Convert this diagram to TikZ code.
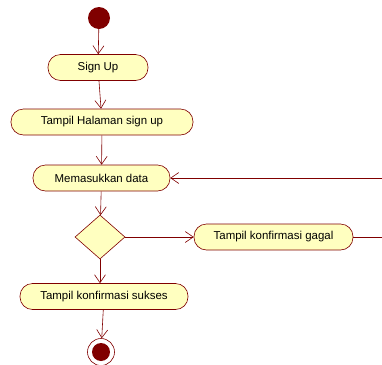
\documentclass[tikz,border=0pt]{standalone}
\usepackage{fontspec}
\setmainfont{Liberation Sans}
\usetikzlibrary{shapes,arrows.meta}
\definecolor{umlred}{RGB}{128,0,0}
\definecolor{umlfill}{RGB}{255,255,192}
\tikzstyle{act}=[draw=umlred, fill=umlfill, semithick, rectangle, rounded corners=12.5bp, minimum height=26bp, inner sep=0pt, font=\fontsize{11.5}{13}\selectfont]
\tikzstyle{cabang}=[draw=umlred, fill=umlfill, semithick, diamond, minimum width=50bp, minimum height=44bp, inner sep=0pt]
\tikzstyle{alur}=[draw=umlred, semithick, -{Straight Barb[length=8bp,width=11bp]}]

\begin{document}
\begin{tikzpicture}[x=1bp,y=-1bp]
\useasboundingbox (0,0) rectangle (382,365);
\node[circle, fill=umlred, minimum size=22bp, inner sep=0pt] (mulai) at (99,18) {};
\node[act, minimum width=100bp] (signup) at (98,67.5) {Sign Up};
\node[act, minimum width=182bp] (halaman) at (102,122) {Tampil Halaman sign up};
\node[act, minimum width=137bp] (data) at (101.5,178) {Memasukkan data};
\node[cabang] (cek) at (100,237) {};
\node[act, minimum width=159bp] (gagal) at (273.5,237) {Tampil konfirmasi gagal};
\node[act, minimum width=168bp] (sukses) at (104,296.5) {Tampil konfirmasi sukses};
\node[circle, draw=umlred, semithick, fill=white, minimum size=27bp, inner sep=0pt] (selesai) at (101,352) {};
\fill[umlred] (selesai) circle (9bp);
\coordinate (balik) at (395,237);

\draw[alur] (mulai) -- (signup);
\draw[alur] (signup) -- (halaman);
\draw[alur] (halaman) -- (data);
\draw[alur] (data) -- (cek);
\draw[alur] (cek) -- (gagal);
\draw[alur] (cek) -- (cek |- sukses.north);
\draw[alur] (sukses) -- (selesai);
\draw[alur] (gagal) -- (balik) |- (data);
\end{tikzpicture}
\end{document}
